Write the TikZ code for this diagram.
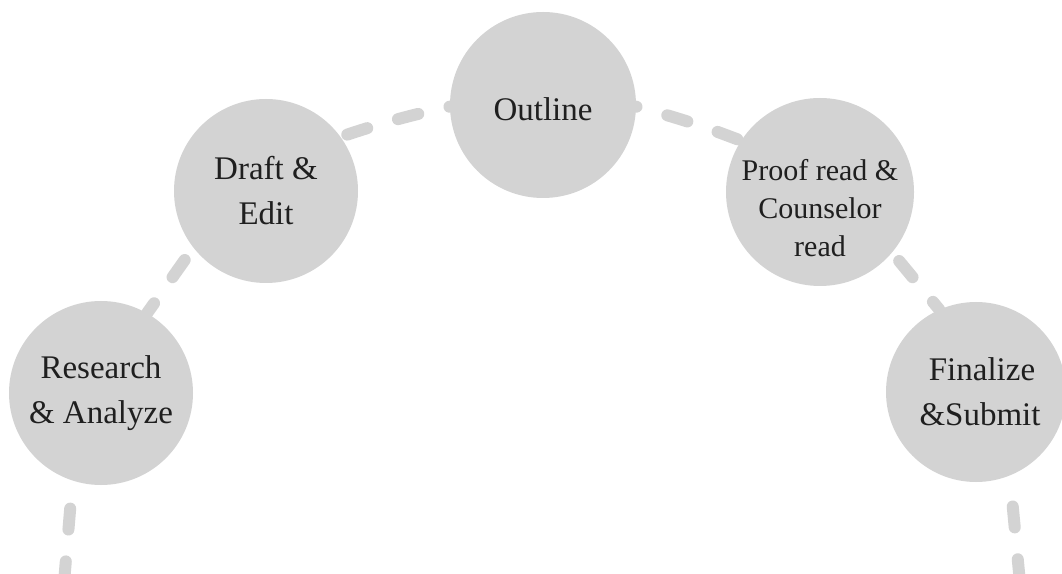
\documentclass[tikz,border=0pt]{standalone}
\usepackage{fontspec}
\setmainfont{Liberation Serif}
\definecolor{stagegray}{HTML}{D3D3D3}
\tikzset{
  stage/.style={circle, fill=stagegray, minimum size=184pt, inner sep=0pt,
    align=center, text=black!88, font=\fontsize{33}{45}\selectfont},
  trail/.style={draw=stagegray, line width=12pt, line cap=round,
    dash pattern=on 21pt off 32pt}
}

\begin{document}
\begin{tikzpicture}[x=1pt,y=1pt]
  \useasboundingbox (0,0) rectangle (1062,573);
  % stages along the arch
  \node[stage] (research) at (101,180) {Research\\\& Analyze};
  \node[stage] (draft) at (266,382) {Draft \&\\Edit};
  \node[stage, minimum size=186pt] (outline) at (543,468) {\mbox{}\\[-14pt]Outline};
  \node[stage, minimum size=188pt, font=\fontsize{30}{38}\selectfont]
    (proof) at (820,381) {\raisebox{-25pt}[0pt][0pt]{%
      \begin{tabular}{@{}c@{}}Proof read \&\\Counselor\\read\end{tabular}}};
  \node[stage, minimum size=180pt] (finalize) at (976,181)
    {\hspace*{12pt}Finalize\\\hspace*{8pt}\&Submit};
  % loose ends below the page
  \coordinate (rfoot) at (64,-10);
  \coordinate (ffoot) at (1020,-10);
  % dashed arch
  \draw[trail, dash phase=25pt] (research.252) -- (rfoot);
  \draw[trail, dash phase=38pt] (draft.218) -- (research.60);
  \draw[trail, dash phase=46pt] (draft.36) to[bend left=3] (outline.181);
  \draw[trail, dash phase=49pt] (proof.147) to[bend right=3] (outline.359);
  \draw[trail, dash phase=42pt] (proof.-40) -- (finalize.114);
  \draw[trail, dash phase=22pt] (finalize.292) -- (ffoot);
\end{tikzpicture}
\end{document}
